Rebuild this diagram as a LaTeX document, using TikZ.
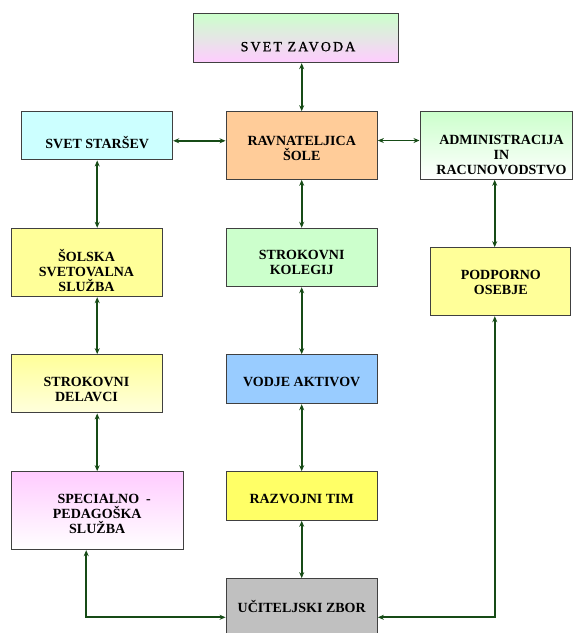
\documentclass[tikz,border=0pt]{standalone}
\usepackage{fontspec}
\setmainfont{Liberation Serif}
\usetikzlibrary{arrows.meta}
\definecolor{arrowgreen}{RGB}{22,75,22}
\definecolor{boxline}{RGB}{64,64,64}
\definecolor{palegreen}{RGB}{204,255,204}
\definecolor{palepink}{RGB}{255,204,255}
\definecolor{palecyan}{RGB}{204,255,255}
\definecolor{paleorange}{RGB}{255,204,153}
\definecolor{paleyellow}{RGB}{255,255,153}
\definecolor{lightyellow}{RGB}{255,255,221}
\definecolor{paleblue}{RGB}{153,204,255}
\definecolor{brightyellow}{RGB}{255,255,102}
\definecolor{midgray}{RGB}{192,192,192}

\tikzset{
  box/.style={draw=boxline, line width=1pt, rectangle, inner sep=0pt},
  boxtext/.style={font=\fontsize{14}{15}\selectfont\bfseries, align=center, inner sep=0pt},
  widetext/.style={font=\fontsize{14}{15}\selectfont\addfontfeatures{LetterSpace=15,FakeBold=1}, align=center, inner sep=0pt},
  link/.style={draw=arrowgreen, line width=1.8pt, >={Stealth[length=6pt,width=5pt]}, <->}
}

\begin{document}
\begin{tikzpicture}[x=1pt, y=-1pt]
\useasboundingbox (0,0) rectangle (573,633);

% top row
\node[box, top color=palegreen, bottom color=palepink, minimum width=204.7pt, minimum height=48.7pt,
  label={[widetext, yshift=-8.4pt, xshift=1.7pt]center:SVET ZAVODA}] (zavod) at (296.3,38.3) {};
\node[box, fill=palecyan, minimum width=151pt, minimum height=48.3pt,
  label={[boxtext, yshift=-6.5pt]center:SVET STARŠEV}] (starsev) at (97.2,135.8) {};
\node[box, fill=paleorange, minimum width=151.3pt, minimum height=67.6pt,
  label={[boxtext, yshift=-3.3pt]center:{RAVNATELJICA\\ŠOLE}}] (ravn) at (301.7,145.5) {};
\node[box, top color=palegreen, bottom color=white, minimum width=152pt, minimum height=67.6pt,
  label={[boxtext, yshift=-9.7pt, xshift=5.5pt]center:{ADMINISTRACIJA\\IN\\RACUNOVODSTVO}}] (admin) at (496,145.5) {};

% left column
\node[box, fill=paleyellow, minimum width=151pt, minimum height=68.4pt,
  label={[boxtext, yshift=-7.5pt]center:{ŠOLSKA\\SVETOVALNA\\SLUŽBA}}] (solska) at (86.5,262.5) {};
\node[box, top color=paleyellow, bottom color=lightyellow, minimum width=151pt, minimum height=58.3pt,
  label={[boxtext, yshift=-5.9pt]center:{STROKOVNI\\DELAVCI}}] (delavci) at (86.5,383.8) {};
\node[box, top color=palepink, bottom color=white, minimum width=172.3pt, minimum height=78pt,
  label={[boxtext, yshift=-3.5pt]center:{\hspace{14pt}SPECIALNO\ \ -\\PEDAGOŠKA\\SLUŽBA}}] (specialno) at (97.2,510.7) {};

% middle column
\node[box, fill=palegreen, minimum width=151.3pt, minimum height=58.4pt,
  label={[boxtext, yshift=-5.3pt]center:{STROKOVNI\\KOLEGIJ}}] (kolegij) at (301.7,257.5) {};
\node[box, fill=paleblue, minimum width=151.3pt, minimum height=49pt,
  label={[boxtext, yshift=-3.1pt]center:VODJE AKTIVOV}] (vodje) at (301.7,379.2) {};
\node[box, fill=brightyellow, minimum width=151.3pt, minimum height=48.6pt,
  label={[boxtext, yshift=-2.7pt]center:RAZVOJNI TIM}] (razvojni) at (301.7,496) {};
\node[box, fill=midgray, minimum width=151.3pt, minimum height=57.3pt,
  label={[boxtext, yshift=1.3pt]center:UČITELJSKI ZBOR}] (zbor) at (301.7,607.3) {};

% right column
\node[box, fill=paleyellow, minimum width=139.7pt, minimum height=68pt,
  label={[boxtext, yshift=-0.3pt]center:{PODPORNO\\OSEBJE}}] (podporno) at (500.8,281.7) {};

% connectors
\draw[link] (ravn.north |- zavod.south) -- (ravn.north);
\draw[link] ([yshift=-5pt]starsev.east) -- ([yshift=-5pt]starsev.east -| ravn.west);
\draw[link] ([yshift=5pt]ravn.east) -- ([yshift=5pt]ravn.east -| admin.west);

\draw[link] (starsev.south) -- (starsev.south |- solska.north);
\draw[link] (starsev.south |- solska.south) -- (starsev.south |- delavci.north);
\draw[link] (specialno.north |- delavci.south) -- (specialno.north);
\draw[link] ([xshift=-11pt]specialno.south) |- ([yshift=-10pt]zbor.west);

\draw[link] (ravn.south) -- (kolegij.north);
\draw[link] (kolegij.south) -- (vodje.north);
\draw[link] (vodje.south) -- (razvojni.north);
\draw[link] (razvojni.south) -- (zbor.north);

\draw[link] ([xshift=-1.3pt]admin.south) -- ([xshift=-1.3pt]admin.south |- podporno.north);
\draw[link] ([xshift=-6pt]podporno.south) |- ([yshift=-10pt]zbor.east);

\end{tikzpicture}
\end{document}
